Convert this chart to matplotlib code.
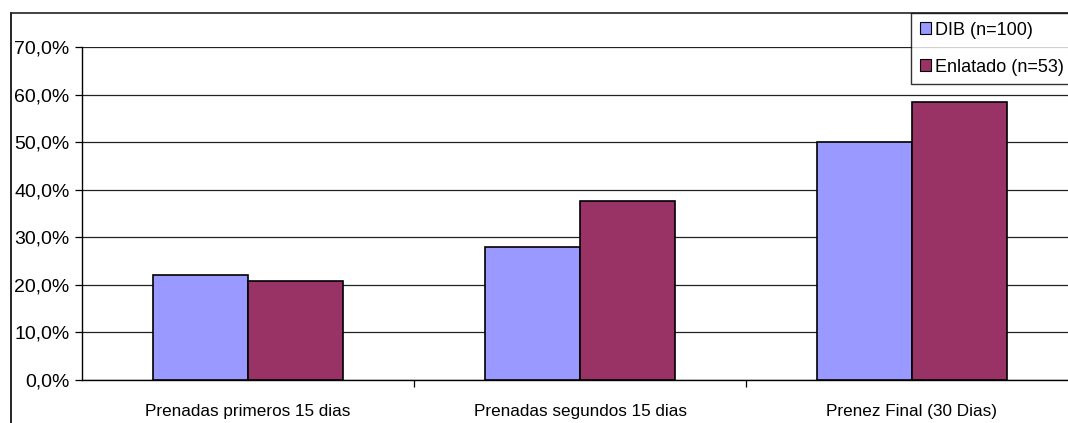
import matplotlib
matplotlib.use("Agg")
import matplotlib.pyplot as plt
import numpy as np
from matplotlib.patches import Patch
from matplotlib.lines import Line2D
from matplotlib.ticker import FuncFormatter, FixedLocator

categories = ["Prenadas primeros 15 dias", "Prenadas segundos 15 dias", "Prenez Final (30 Dias)"]
series_names = ["DIB (n=100)", "Enlatado (n=53)"]
dib = [0.22, 0.28, 0.50]
enlatado = [0.208, 0.377, 0.585]
y_ticks = [0.0, 0.1, 0.2, 0.3, 0.4, 0.5, 0.6, 0.7]

plt.rcParams['font.family'] = ['Liberation Sans', 'DejaVu Sans']

W, H = 1068, 423
fig = plt.figure(figsize=(W / 100, H / 100), dpi=100)

# plot area in pixel terms (extends past the right edge of the canvas)
left_px, right_px, top_px, bottom_px = 82, 1078, 47, 380
ax = fig.add_axes([left_px / W, 1 - bottom_px / H,
                   (right_px - left_px) / W, (bottom_px - top_px) / H])

x = np.arange(len(categories))
bw = 1 / 3.5
c_dib = "#9999FF"
c_enl = "#993366"
ax.bar(x - bw / 2, dib, width=bw, color=c_dib, edgecolor="black", linewidth=1.2, zorder=3)
ax.bar(x + bw / 2, enlatado, width=bw, color=c_enl, edgecolor="black", linewidth=1.2, zorder=3)

ax.set_xlim(-0.5, len(categories) - 0.5)
ax.set_ylim(0, 0.7)
ax.set_yticks(y_ticks)
ax.yaxis.set_major_formatter(FuncFormatter(lambda v, p: f"{v * 100:.1f}%".replace(".", ",")))
ax.grid(axis="y", color="#222222", linewidth=0.9, zorder=0)

ax.set_xticks(x)
ax.set_xticklabels(categories, fontsize=12.3)
ax.xaxis.set_minor_locator(FixedLocator([0.5, 1.5]))
ax.tick_params(axis="x", which="major", length=0, pad=17, colors="black")
ax.tick_params(axis="x", which="minor", length=5, direction="out", width=0.9)
ax.tick_params(axis="y", length=5, direction="out", width=0.9, labelsize=14, pad=4)

for side in ("top", "right"):
    ax.spines[side].set_visible(False)
ax.spines["left"].set_linewidth(1.0)
ax.spines["bottom"].set_linewidth(1.0)

# outer chart border (left and top edges)
bx, by = 11 / W, 1 - 13 / H
fig.add_artist(Line2D([bx, bx], [0, by], transform=fig.transFigure, color="black", linewidth=1.2))
fig.add_artist(Line2D([bx, 1], [by, by], transform=fig.transFigure, color="#222222", linewidth=1.2))

handles = [Patch(facecolor=c_dib, edgecolor="black", linewidth=0.8),
           Patch(facecolor=c_enl, edgecolor="black", linewidth=0.8)]
leg = fig.legend(handles, series_names, loc="upper left",
                 bbox_to_anchor=(911 / W, by), fontsize=13,
                 handlelength=0.62, handleheight=0.62, handletextpad=0.25,
                 labelspacing=1.1, borderpad=0.48, borderaxespad=0,
                 fancybox=False, frameon=True)
leg.get_frame().set_edgecolor("black")
leg.get_frame().set_linewidth(1.0)

fig.savefig("out.png", dpi=100)
